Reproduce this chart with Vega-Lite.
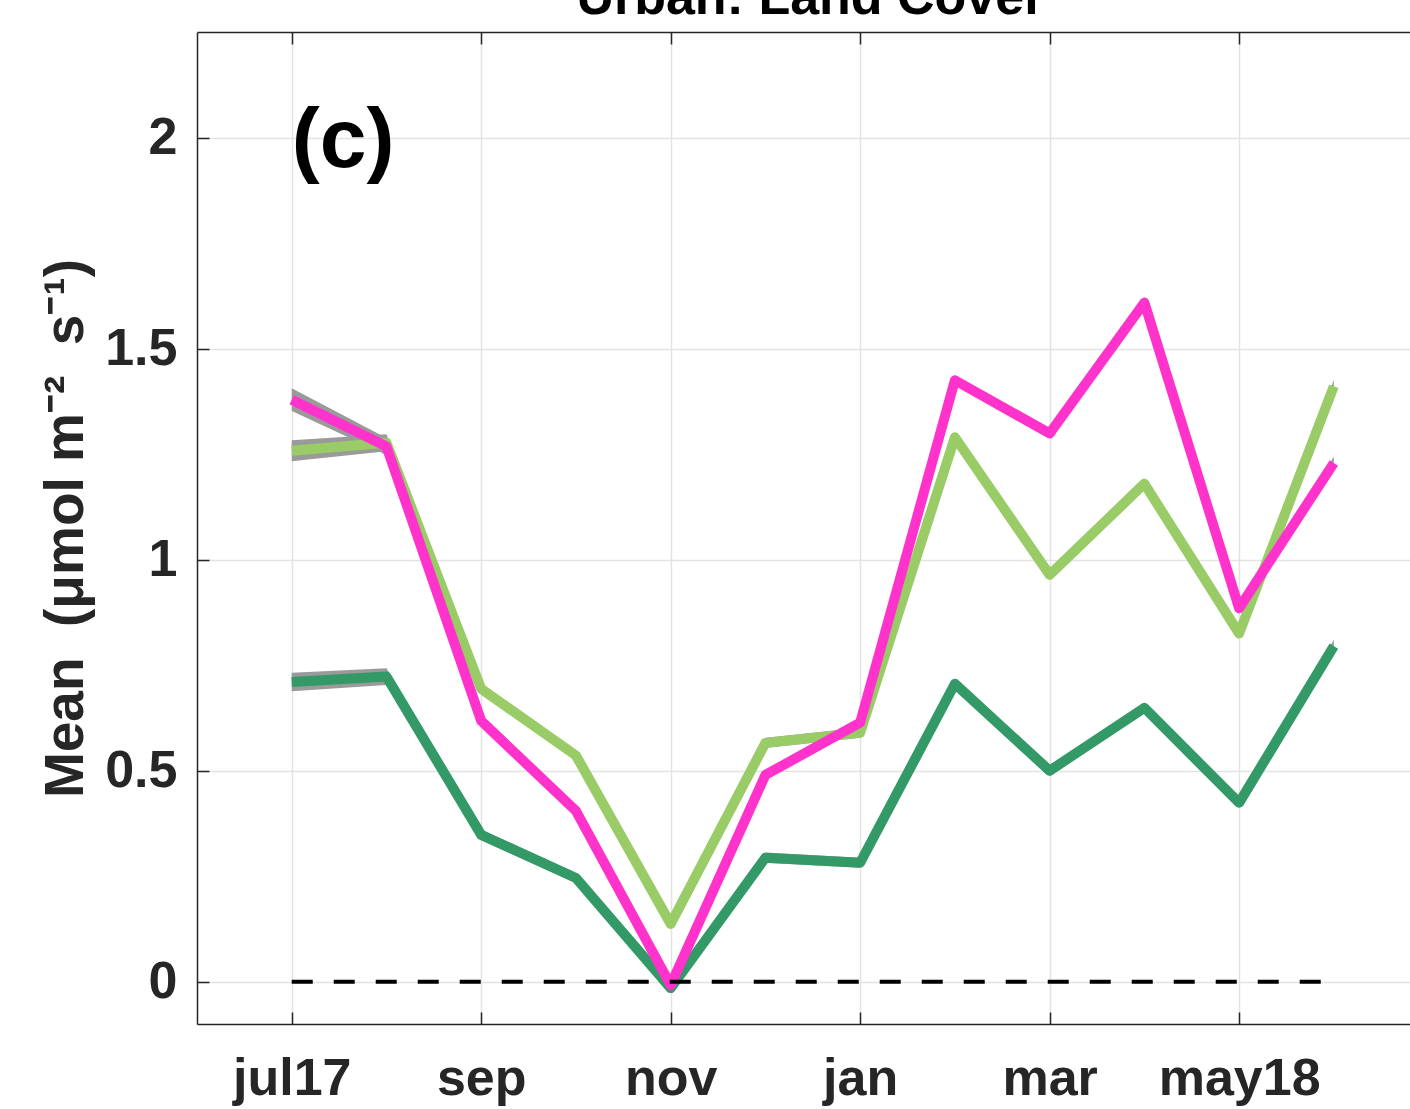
{
  "$schema": "https://vega.github.io/schema/vega-lite/v6.json",
  "autosize": {"type": "none"},
  "padding": {"left": 197, "top": 32, "right": 0, "bottom": 85},
  "width": 1213,
  "height": 992,
  "background": "white",
  "config": {
    "font": "Liberation Sans",
    "view": {"stroke": null}
  },
  "datasets": {
    "monthly": [
      {"m": 0, "month": "jul17", "series": "dark", "value": 0.71, "lo": 0.688, "hi": 0.732},
      {"m": 1, "month": "aug", "series": "dark", "value": 0.723, "lo": 0.703, "hi": 0.743},
      {"m": 2, "month": "sep", "series": "dark", "value": 0.348, "lo": 0.336, "hi": 0.36},
      {"m": 3, "month": "oct", "series": "dark", "value": 0.246, "lo": 0.234, "hi": 0.258},
      {"m": 4, "month": "nov", "series": "dark", "value": -0.015, "lo": -0.027, "hi": -0.003},
      {"m": 5, "month": "dec", "series": "dark", "value": 0.294, "lo": 0.282, "hi": 0.306},
      {"m": 6, "month": "jan", "series": "dark", "value": 0.282, "lo": 0.27, "hi": 0.294},
      {"m": 7, "month": "feb", "series": "dark", "value": 0.706, "lo": 0.694, "hi": 0.718},
      {"m": 8, "month": "mar", "series": "dark", "value": 0.5, "lo": 0.488, "hi": 0.512},
      {"m": 9, "month": "apr", "series": "dark", "value": 0.649, "lo": 0.637, "hi": 0.661},
      {"m": 10, "month": "may18", "series": "dark", "value": 0.424, "lo": 0.412, "hi": 0.436},
      {"m": 11, "month": "jun", "series": "dark", "value": 0.795, "lo": 0.78, "hi": 0.81},
      {"m": 0, "month": "jul17", "series": "light", "value": 1.258, "lo": 1.233, "hi": 1.283},
      {"m": 1, "month": "aug", "series": "light", "value": 1.277, "lo": 1.257, "hi": 1.297},
      {"m": 2, "month": "sep", "series": "light", "value": 0.694, "lo": 0.682, "hi": 0.706},
      {"m": 3, "month": "oct", "series": "light", "value": 0.536, "lo": 0.524, "hi": 0.548},
      {"m": 4, "month": "nov", "series": "light", "value": 0.137, "lo": 0.125, "hi": 0.149},
      {"m": 5, "month": "dec", "series": "light", "value": 0.566, "lo": 0.554, "hi": 0.578},
      {"m": 6, "month": "jan", "series": "light", "value": 0.59, "lo": 0.578, "hi": 0.602},
      {"m": 7, "month": "feb", "series": "light", "value": 1.29, "lo": 1.278, "hi": 1.302},
      {"m": 8, "month": "mar", "series": "light", "value": 0.964, "lo": 0.952, "hi": 0.976},
      {"m": 9, "month": "apr", "series": "light", "value": 1.18, "lo": 1.168, "hi": 1.192},
      {"m": 10, "month": "may18", "series": "light", "value": 0.825, "lo": 0.813, "hi": 0.837},
      {"m": 11, "month": "jun", "series": "light", "value": 1.411, "lo": 1.396, "hi": 1.426},
      {"m": 0, "month": "jul17", "series": "pink", "value": 1.379, "lo": 1.352, "hi": 1.406},
      {"m": 1, "month": "aug", "series": "pink", "value": 1.268, "lo": 1.248, "hi": 1.288},
      {"m": 2, "month": "sep", "series": "pink", "value": 0.618, "lo": 0.606, "hi": 0.63},
      {"m": 3, "month": "oct", "series": "pink", "value": 0.405, "lo": 0.393, "hi": 0.417},
      {"m": 4, "month": "nov", "series": "pink", "value": -0.008, "lo": -0.02, "hi": 0.004},
      {"m": 5, "month": "dec", "series": "pink", "value": 0.49, "lo": 0.478, "hi": 0.502},
      {"m": 6, "month": "jan", "series": "pink", "value": 0.614, "lo": 0.602, "hi": 0.626},
      {"m": 7, "month": "feb", "series": "pink", "value": 1.425, "lo": 1.413, "hi": 1.437},
      {"m": 8, "month": "mar", "series": "pink", "value": 1.299, "lo": 1.287, "hi": 1.311},
      {"m": 9, "month": "apr", "series": "pink", "value": 1.609, "lo": 1.597, "hi": 1.621},
      {"m": 10, "month": "may18", "series": "pink", "value": 0.885, "lo": 0.873, "hi": 0.897},
      {"m": 11, "month": "jun", "series": "pink", "value": 1.229, "lo": 1.214, "hi": 1.244}
    ]
  },
  "resolve": {"axis": {"x": "independent"}},
  "layer": [
    {
      "data": {"name": "monthly"},
      "mark": {"type": "area", "color": "#9a9a9a", "interpolate": "linear", "opacity": 1},
      "encoding": {
        "x": {
          "field": "m",
          "type": "quantitative",
          "scale": {"domain": [-1, 11.804], "nice": false, "zero": false},
          "axis": {
            "orient": "bottom",
            "values": [0, 2, 4, 6, 8, 10],
            "labelExpr": "['jul17','aug','sep','oct','nov','dec','jan','feb','mar','apr','may18','jun'][datum.value]",
            "title": null,
            "grid": true,
            "gridColor": "#e3e3e3",
            "gridWidth": 1.5,
            "domainColor": "#262626",
            "domainWidth": 1.5,
            "tickColor": "#262626",
            "tickWidth": 1.5,
            "tickSize": -12,
            "labelFont": "Liberation Sans",
            "labelFontSize": 52,
            "labelFontWeight": "bold",
            "labelColor": "#262626",
            "labelBaseline": "alphabetic",
            "labelPadding": 82,
            "labelFlush": false,
            "labelOverlap": false
          }
        },
        "y": {
          "field": "lo",
          "type": "quantitative",
          "scale": {"domain": [-0.1, 2.25], "nice": false, "zero": false},
          "axis": {
            "values": [0, 0.5, 1, 1.5, 2],
            "format": "~g",
            "grid": true,
            "gridColor": "#e3e3e3",
            "gridWidth": 1.5,
            "domainColor": "#262626",
            "domainWidth": 1.5,
            "tickColor": "#262626",
            "tickWidth": 1.5,
            "tickSize": -12,
            "labelFont": "Liberation Sans",
            "labelFontSize": 52,
            "labelFontWeight": "bold",
            "labelColor": "#262626",
            "labelPadding": 32,
            "labelOverlap": false,
            "labelFlush": false,
            "title": "Mean\u00a0\u00a0(μmol m⁻²\u00a0\u00a0s⁻¹)",
            "titleFont": "Liberation Sans",
            "titleFontSize": 55,
            "titleFontWeight": "bold",
            "titleColor": "#262626",
            "titleAngle": 270,
            "titleAlign": "center",
            "titleBaseline": "middle",
            "titleX": -132,
            "titleY": 496
          }
        },
        "y2": {"field": "hi"},
        "detail": {"field": "series"}
      }
    },
    {
      "data": {"name": "monthly"},
      "mark": {"type": "line", "strokeWidth": 10, "strokeJoin": "round", "strokeCap": "butt"},
      "encoding": {
        "x": {
          "field": "m",
          "type": "quantitative",
          "axis": {
            "orient": "top",
            "values": [0, 2, 4, 6, 8, 10],
            "labels": false,
            "grid": false,
            "title": null,
            "domainColor": "#262626",
            "domainWidth": 1.5,
            "tickColor": "#262626",
            "tickWidth": 1.5,
            "tickSize": -12
          }
        },
        "y": {"field": "value", "type": "quantitative", "axis": {"title": "Mean\u00a0\u00a0(μmol m⁻²\u00a0\u00a0s⁻¹)"}},
        "color": {
          "field": "series",
          "type": "nominal",
          "scale": {"domain": ["dark", "light", "pink"], "range": ["#339966", "#99cc66", "#ff33cc"]},
          "legend": null
        }
      }
    },
    {
      "data": {"values": [{}]},
      "mark": {"type": "rule", "color": "#000000", "strokeWidth": 4, "strokeDash": [21, 21]},
      "encoding": {
        "x": {"datum": 0, "type": "quantitative", "axis": null},
        "x2": {"datum": 11},
        "y": {"datum": 0, "type": "quantitative", "axis": {"title": "Mean\u00a0\u00a0(μmol m⁻²\u00a0\u00a0s⁻¹)"}}
      }
    },
    {
      "data": {"values": [{}]},
      "mark": {
        "type": "text",
        "text": "(c)",
        "align": "left",
        "baseline": "alphabetic",
        "font": "Liberation Sans",
        "fontSize": 84,
        "fontWeight": "bold",
        "color": "#000000"
      },
      "encoding": {
        "x": {"datum": 0, "type": "quantitative", "axis": null},
        "y": {"datum": 1.93, "type": "quantitative", "axis": {"title": "Mean\u00a0\u00a0(μmol m⁻²\u00a0\u00a0s⁻¹)"}}
      }
    },
    {
      "data": {"values": [{}]},
      "mark": {
        "type": "text",
        "text": "Urban: Land Cover",
        "align": "center",
        "baseline": "alphabetic",
        "font": "Liberation Sans",
        "fontSize": 52,
        "fontWeight": "bold",
        "color": "#000000"
      },
      "encoding": {
        "x": {"datum": 5.475, "type": "quantitative", "axis": null},
        "y": {"datum": 2.2927, "type": "quantitative", "axis": {"title": "Mean\u00a0\u00a0(μmol m⁻²\u00a0\u00a0s⁻¹)"}}
      }
    }
  ]
}
